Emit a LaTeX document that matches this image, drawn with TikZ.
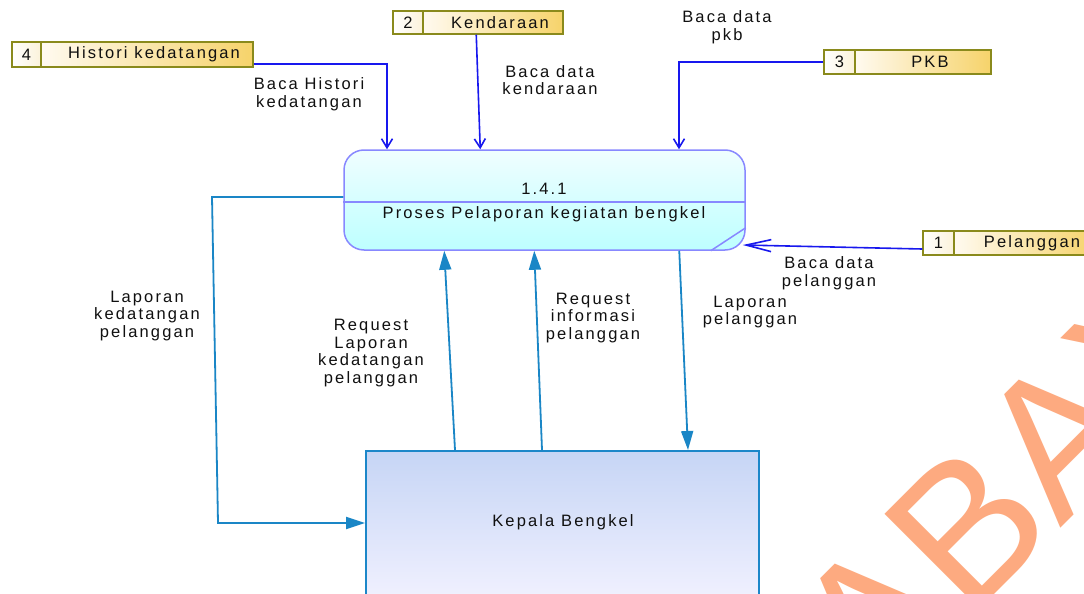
\documentclass[tikz,border=0pt]{standalone}
\usepackage{fontspec}
\setmainfont{Liberation Sans}[LetterSpace=13]
\newfontfamily\wmfont{Liberation Sans}
\usetikzlibrary{arrows.meta,calc}

\definecolor{txt}{HTML}{101010}
\definecolor{storeborder}{HTML}{8A8A1C}
\definecolor{storegold}{HTML}{F6D36A}
\definecolor{storepale}{HTML}{FFFAF0}
\definecolor{numpale}{HTML}{FBF2DA}
\definecolor{procborder}{HTML}{8888FF}
\definecolor{proctop}{HTML}{F0FEFF}
\definecolor{procbottom}{HTML}{BDFFFF}
\definecolor{kbborder}{HTML}{1C87C9}
\definecolor{kbtop}{HTML}{C6D5F5}
\definecolor{kbbottom}{HTML}{F1F1FF}
\definecolor{flowblue}{HTML}{1A86C6}
\definecolor{readblue}{HTML}{1818EE}
\definecolor{wmorange}{HTML}{FDAA80}

\begin{document}
\begin{tikzpicture}[x=1pt,y=-1pt,
  lbl/.style={font=\fontsize{16.5}{17.6}\selectfont, align=center, text=txt, inner sep=0pt},
  numcell/.style={rectangle, draw=storeborder, line width=1.5pt, left color=white, right color=numpale,
    inner sep=0pt, font=\fontsize{16.5}{17.6}\selectfont, text=txt},
  namecell/.style={rectangle, draw=storeborder, line width=1.5pt, left color=storepale, right color=storegold,
    inner sep=0pt},
  procbox/.style={rectangle, rounded corners=20pt, draw=procborder, line width=1.5pt,
    top color=proctop, bottom color=procbottom, minimum width=401pt, minimum height=100pt, inner sep=0pt},
  kbbox/.style={rectangle, draw=kbborder, line width=2pt, shading angle=40,
    top color=kbtop, bottom color=kbbottom, minimum width=393pt, minimum height=150pt, inner sep=0pt},
  readflow/.style={draw=readblue, line width=1.6pt, -{Straight Barb[length=9pt,width=11pt]}},
  readflowlong/.style={draw=readblue, line width=1.6pt, -{Straight Barb[length=25pt,width=12pt]}},
  dataflow/.style={draw=flowblue, line width=1.8pt, -{Triangle[length=19pt,width=12pt]}},
  wm/.style={anchor=base west, rotate=45, inner sep=0pt, outer sep=0pt, text=wmorange,
    font=\wmfont\fontsize{195}{195}\selectfont}
]
\useasboundingbox (0,0) rectangle (1084,594);
\clip (0,0) rectangle (1084,594);
\fill[white] (0,0) rectangle (1084,594);

% watermark letters
\node[wm] (wmA1) at (876,712) {A};
\node[wm] (wmB) at (968,620) {B};
\node[wm] (wmA2) at (1060,528) {A};
\node[wm] (wmY) at (1152,436) {Y};

% data stores
\node[numcell, minimum width=29pt, minimum height=25pt] (s4n) at (26.5,54.5) {4};
\node[namecell, minimum width=212pt, minimum height=25pt] (s4) at (147,54.5) {};
\node[lbl] (s4t) at (154,54.5) {Histori kedatangan};

\node[numcell, minimum width=30pt, minimum height=23pt] (s2n) at (408,22.5) {2};
\node[namecell, minimum width=140pt, minimum height=23pt] (s2) at (493,22.5) {};
\node[lbl] (s2t) at (500,22.5) {Kendaraan};

\node[numcell, minimum width=31pt, minimum height=24pt] (s3n) at (839.5,62) {3};
\node[namecell, minimum width=136pt, minimum height=24pt] (s3) at (923,62) {};
\node[lbl] (s3t) at (930,62) {PKB};

\node[numcell, minimum width=31pt, minimum height=24pt] (s1n) at (938.5,243) {1};
\node[namecell, minimum width=142pt, minimum height=24pt] (s1) at (1025,243) {};
\node[lbl] (s1t) at (1032,243) {Pelanggan};

% process
\node[procbox] (proc) at (544.5,200) {};
\draw[procborder, line width=1.5pt] ($(proc.west)+(0,2)$) -- ($(proc.east)+(0,2)$);
\draw[procborder, line width=1.5pt] ($(proc.south east)+(-35,0)$) -- ($(proc.south east)+(0,-23)$);
\node[lbl] (pid) at (544,189) {1.4.1};
\node[lbl] (pname) at (544,214) {Proses Pelaporan kegiatan bengkel};

% external entity
\node[kbbox] (kb) at (562.5,526) {};
\node[lbl] (kbt) at (563,522) {Kepala Bengkel};

% reads from stores
\coordinate (k4) at (387,64);
\draw[readflow] (s4.east |- k4) -- (k4) -- (k4 |- proc.north);
\draw[readflow] ($(s2.south west)+(54,0)$) -- ($(proc.north west)+(137,0)$);
\coordinate (k3) at (679,62);
\draw[readflow] (s3n.west) -- (k3) -- (k3 |- proc.north);
\draw[readflowlong] ($(s1n.west)+(0,6)$) -- ($(proc.east)+(-3,45)$);

% flows between process and entity
\coordinate (b1) at (212,197);
\coordinate (b2) at (218,523);
\draw[dataflow] (proc.west |- b1) -- (b1) -- (b2) -- (kb.west |- b2);
\draw[dataflow] ($(kb.north west)+(90,0)$) -- ($(proc.south west)+(101,0)$);
\draw[dataflow] ($(kb.north west)+(177,0)$) -- ($(proc.south west)+(191,0)$);
\draw[dataflow] ($(proc.south west)+(336,0)$) -- ($(kb.north west)+(323,0)$);

% flow labels
\node[lbl] (l1) at (309,94) {Baca Histori\\kedatangan};
\node[lbl] (l2) at (550,80) {Baca data\\kendaraan};
\node[lbl] (l3) at (727,27) {Baca data\\pkb};
\node[lbl] (l4) at (829,273) {Baca data\\pelanggan};
\node[lbl] (l5) at (147,316) {Laporan\\kedatangan\\pelanggan};
\node[lbl] (l6) at (371,353) {Request\\Laporan\\kedatangan\\pelanggan};
\node[lbl] (l7) at (593,318) {Request\\informasi\\pelanggan};
\node[lbl] (l8) at (750,312) {Laporan\\pelanggan};
\end{tikzpicture}
\end{document}
